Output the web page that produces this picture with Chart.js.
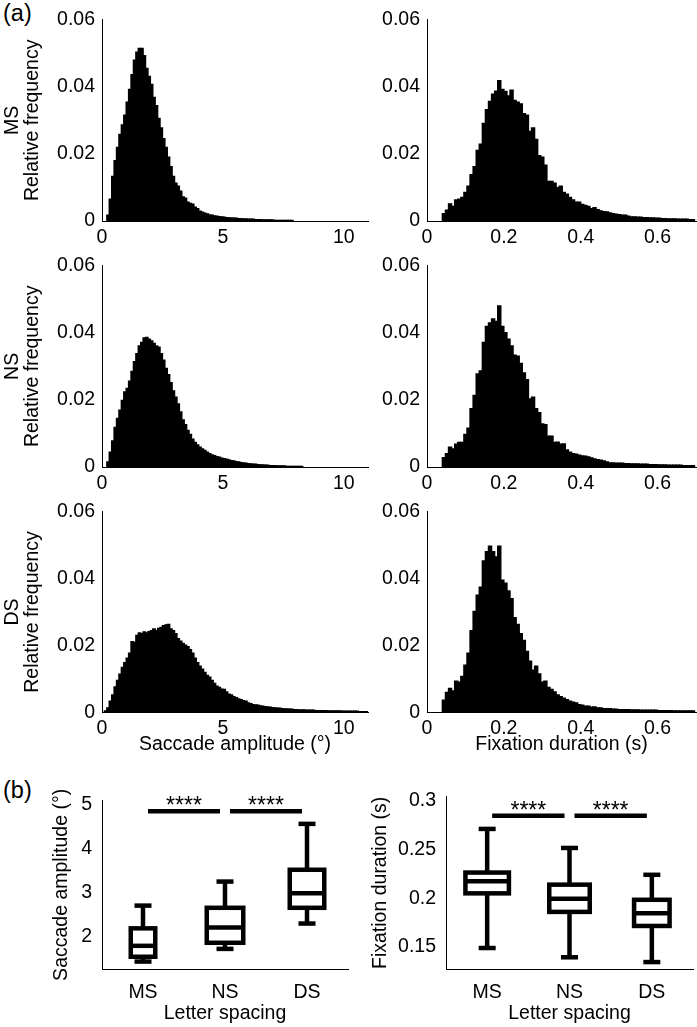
<!DOCTYPE html>
<html>
<head>
<meta charset="utf-8">
<script src="https://cdn.jsdelivr.net/npm/chart.js@4/dist/chart.umd.min.js"></script>
<style>
  body { margin: 0; background: #fff; width: 697px; height: 1027px; position: relative; overflow: hidden;
         font-family: "Liberation Sans", Arial, Helvetica, sans-serif; color: #000; }
  canvas { position: absolute; }
  .panel { position: absolute; font-size: 23.5px; line-height: 1; }
</style>
</head>
<body>
<div class="panel" style="left:3px;top:2px">(a)</div>
<div class="panel" style="left:3px;top:779px">(b)</div>
<canvas id="h1"></canvas><canvas id="h2"></canvas>
<canvas id="h3"></canvas><canvas id="h4"></canvas>
<canvas id="h5"></canvas><canvas id="h6"></canvas>
<canvas id="b1"></canvas><canvas id="b2"></canvas>
<script>
// ---- data: saccade amplitude histograms (bin width 0.1 deg) ----
const ampBinWidth = 0.1;
const msAmpStart = 0.2;
const msAmp = [.0017,.0065,.0133,.018,.0219,.0258,.0286,.0315,.0354,.0392,
  .0436,.0479,.0503,.0514,.0514,.0493,.0455,.0431,.0407,.0368,
  .0344,.0306,.0277,.0245,.0219,.019,.0162,.0133,.0113,.0104,
  .0089,.0072,.0068,.0056,.0052,.005,.0041,.0037,.0029,.0026,
  .0023,.0021,.0018,.0017,.0015,.0014,.0013,.0012,.0011,.001,
  .0009,.0009,.0008,.0008,.0007,.0007,.0006,.0006,.0005,.0005,
  .0005,.0004,.0004,.0004,.0003,.0003,.0003,.0003,.0003,.0002,
  .0002,.0002,.0002,.0002,.0002,.0002,.0002];
const nsAmpStart = 0.2;
const nsAmp = [.0015,.0044,.0078,.0118,.0145,.0169,.0198,.0224,.0234,.0256,
  .0285,.0314,.0338,.0361,.0371,.0385,.0386,.0381,.0376,.0368,
  .0361,.0357,.0338,.0318,.0294,.0275,.0251,.0227,.0208,.0188,
  .0164,.014,.0126,.0109,.0097,.0083,.0073,.0066,.0059,.0054,
  .0049,.0044,.004,.0036,.0034,.0031,.0029,.0026,.0025,.0023,
  .0021,.0019,.0018,.0016,.0015,.0013,.0012,.0011,.001,.0009,
  .0008,.0008,.0007,.0006,.0006,.0005,.0005,.0004,.0004,.0004,
  .0003,.0003,.0003,.0003,.0002,.0002,.0002,.0002,.0002,.0002,.0002];
const dsAmpStart = 0.1;
const dsAmp = [.0004,.0013,.0033,.0052,.0076,.0095,.0114,.0134,.0148,.0162,
  .0177,.0211,.0209,.023,.0237,.0235,.024,.0237,.0241,.0244,
  .0249,.0244,.0251,.0254,.0259,.0261,.0263,.0249,.0244,.0235,
  .022,.0213,.0206,.0201,.0196,.0187,.0177,.0162,.0148,.0138,
  .0129,.0119,.011,.0105,.0095,.0086,.0078,.0074,.0069,.0068,
  .0061,.0054,.0052,.0047,.0044,.004,.0038,.0035,.0033,.0028,
  .0026,.0023,.0022,.0021,.0019,.0018,.0017,.0016,.0015,.0014,
  .0013,.0012,.0012,.0011,.001,.001,.0009,.0009,.0008,.0008,
  .0007,.0007,.0007,.0006,.0006,.0006,.0006,.0005,.0005,.0005,
  .0005,.0005,.0004,.0004,.0004,.0004,.0004,.0004,.0003,.0003,
  .0003,.0003,.0003,.0003,.0003,.0002,.0002,.0002,.0002];

// ---- data: fixation duration histograms (bin width 0.008 s) ----
const durBinWidth = 0.008;
const durStart = 0.04;
const msDur = [.0022,.0032,.0051,.0043,.0063,.0065,.007,.0085,.0104,.0138,
  .0162,.021,.0229,.0291,.0332,.0356,.0378,.0387,.0418,.0392,
  .0386,.0373,.039,.0359,.0354,.0349,.032,.0315,.0267,.0277,
  .0243,.0195,.019,.0166,.0118,.0118,.0113,.0099,.0104,.0085,
  .008,.007,.0063,.0056,.0056,.0049,.0046,.0043,.0037,.004,
  .0034,.003,.0028,.0027,.0024,.0022,.002,.0019,.0017,.0017,
  .0014,.0012,.0012,.0011,.0011,.001,.001,.0009,.0009,.0008,
  .0008,.0007,.0007,.0006,.0006,.0006,.0005,.0005,.0005,.0005,.0004,.0004];
const nsDur = [.0028,.004,.0059,.0054,.0068,.0073,.0073,.0097,.0116,.0174,
  .0213,.0277,.0286,.0371,.0419,.0429,.0441,.0434,.048,.0419,
  .04,.0381,.0361,.0333,.033,.0309,.028,.026,.0203,.0208,
  .0174,.0162,.0128,.0126,.0092,.0092,.0073,.0074,.0068,.0069,
  .0051,.0044,.004,.0038,.0035,.0033,.0032,.003,.0027,.0024,
  .0022,.002,.0018,.0015,.0012,.0012,.0011,.0011,.0011,.001,
  .001,.0009,.0009,.0009,.0008,.0008,.0008,.0007,.0007,.0007,
  .0006,.0006,.0006,.0005,.0005,.0005,.0005,.0005,.0004,.0004,.0004,.0004];
const dsDur = [.0036,.0059,.0071,.0064,.0093,.009,.0107,.0141,.0177,.0244,
  .0302,.035,.0374,.0453,.048,.0497,.048,.0465,.0497,.0395,
  .0386,.0363,.034,.0283,.0263,.0235,.0215,.0182,.0153,.0126,
  .0138,.0115,.009,.0093,.0074,.0068,.0061,.0052,.0047,.0042,
  .0038,.0033,.003,.0028,.0023,.0021,.0018,.0018,.0015,.0016,
  .0013,.0013,.0011,.0011,.0011,.0009,.0009,.0008,.0008,.0008,
  .0008,.0007,.0007,.0007,.0006,.0006,.0006,.0006,.0006,.0006,
  .0005,.0005,.0005,.0005,.0005,.0004,.0004,.0004,.0004,.0004,.0004,.0004];

// ---- data: box plots ----
const spacing = ['MS', 'NS', 'DS'];
const ampMin = [1.42, 1.71, 2.29];
const ampQ1 = [1.53, 1.85, 2.65];
const ampMed = [1.78, 2.2, 2.98];
const ampQ3 = [2.18, 2.65, 3.52];
const ampMax = [2.70, 3.25, 4.57];
const durMin = [0.149, 0.1395, 0.1346];
const durQ1 = [0.205, 0.186, 0.1716];
const durMed = [0.2175, 0.1994, 0.1847];
const durQ3 = [0.2263, 0.2139, 0.1984];
const durMax = [0.271, 0.2515, 0.224];
const sigPairs = [[0, 1], [1, 2]];
const sigLabel = '****';
const ampSigLevel = 4.86;
const durSigLevel = 0.2846;

// ---- tick labels ----
const freqTicks = [0, 0.02, 0.04, 0.06];
const freqLabels = ['0', '0.02', '0.04', '0.06'];
const ampTicks = [0, 5, 10];
const ampLabels = ['0', '5', '10'];
const durTicks = [0, 0.2, 0.4, 0.6];
const durLabels = ['0', '0.2', '0.4', '0.6'];
const ampBoxTicks = [2, 3, 4, 5];
const ampBoxLabels = ['2', '3', '4', '5'];
const durBoxTicks = [0.15, 0.2, 0.25, 0.3];
const durBoxLabels = ['0.15', '0.2', '0.25', '0.3'];

const FONT = '"Liberation Sans", Arial, Helvetica, sans-serif';
const FS = 19.5;
Chart.defaults.font.family = FONT;
Chart.defaults.font.size = FS;
Chart.defaults.color = '#000';

// size and place a canvas so that its plot area lands on the given rectangle
function place(id, plot, m) {
    const c = document.getElementById(id);
    c.width = plot.w + m.l + m.r;
    c.height = plot.h + m.t + m.b;
    c.style.left = (plot.x - m.l) + 'px';
    c.style.top = (plot.y - m.t) + 'px';
    return c;
}

function fixedTicks(values) {
    return s => { s.ticks = values.map(v => ({ value: v })); };
}

function histChart(id, plot, m, start, width, values, xMax, xTicks, xLabels, yTitle, yTitlePad, xTitle) {
    const canvas = place(id, plot, m);
    const points = values.map((v, i) => ({ x: start + (i + 0.5) * width, y: v }));
    new Chart(canvas, {
        type: 'bar',
        data: { datasets: [{ data: points, backgroundColor: '#000', borderWidth: 0, inflateAmount: 0.7, barPercentage: 1, categoryPercentage: 1 }] },
        options: {
            responsive: false,
            animation: false,
            layout: { padding: { top: m.t, right: m.r, left: 0, bottom: 0 } },
            plugins: { legend: { display: false }, tooltip: { enabled: false } },
            scales: {
                x: {
                    type: 'linear', min: 0, max: xMax, offset: false,
                    grid: { display: false, drawTicks: false },
                    border: { color: '#000', width: 1 },
                    afterBuildTicks: fixedTicks(xTicks),
                    afterFit: s => { s.height = m.b; },
                    ticks: { padding: 5, maxRotation: 0, autoSkip: false, callback: (v, i) => xLabels[i] },
                    title: { display: !!xTitle, text: xTitle || '', padding: 0 }
                },
                y: {
                    min: 0, max: 0.06,
                    grid: { display: false, drawTicks: false },
                    border: { color: '#000', width: 1 },
                    afterBuildTicks: fixedTicks(freqTicks),
                    afterFit: s => { s.width = m.l; },
                    ticks: { padding: 7, autoSkip: false, callback: (v, i) => freqLabels[i] },
                    title: { display: !!yTitle, text: yTitle || '', font: { lineHeight: 1 }, padding: { top: yTitlePad, bottom: 0 } }
                }
            }
        }
    });
}

// box plot drawn from the stats arrays through the chart's scales
const boxPlot = {
    id: 'boxPlot',
    afterDatasetsDraw(chart, args, o) {
        const { ctx, scales: { x, y } } = chart;
        const seg = (x1, y1, x2, y2) => { ctx.beginPath(); ctx.moveTo(x1, y1); ctx.lineTo(x2, y2); ctx.stroke(); };
        const lw = 4.5;
        ctx.save();
        ctx.strokeStyle = '#000';
        ctx.lineWidth = lw;
        ctx.lineCap = 'butt';
        o.med.forEach((med, i) => {
            const cx = x.getPixelForValue(i);
            const hw = o.widths[i] / 2;
            const yMin = y.getPixelForValue(o.min[i]);
            const yQ1 = y.getPixelForValue(o.q1[i]);
            const yMed = y.getPixelForValue(med);
            const yQ3 = y.getPixelForValue(o.q3[i]);
            const yMax = y.getPixelForValue(o.max[i]);
            seg(cx, yQ3, cx, yMax);
            seg(cx, yQ1, cx, yMin);
            seg(cx - o.cap / 2, yMax, cx + o.cap / 2, yMax);
            seg(cx - o.cap / 2, yMin, cx + o.cap / 2, yMin);
            ctx.strokeRect(cx - hw + lw / 2, yQ3, o.widths[i] - lw, yQ1 - yQ3);
            seg(cx - hw + lw / 2, yMed, cx + hw - lw / 2, yMed);
        });
        // significance bars
        ctx.fillStyle = '#000';
        ctx.font = '23px ' + FONT;
        ctx.textAlign = 'center';
        ctx.textBaseline = 'alphabetic';
        const ys = y.getPixelForValue(o.sigLevel);
        o.sig.forEach(([a, b]) => {
            const xa = x.getPixelForValue(a) + 5;
            const xb = x.getPixelForValue(b) - 5;
            seg(xa, ys, xb, ys);
            ctx.fillText(sigLabel, (xa + xb) / 2, ys + 2);
        });
        ctx.restore();
    }
};

function boxChart(id, plot, m, stats, yMin, yMax, yTicks, yLabels, yTitle, yTitlePad) {
    const canvas = place(id, plot, m);
    new Chart(canvas, {
        type: 'bar',
        data: {
            labels: spacing,
            datasets: [{ data: stats.q1.map((v, i) => [v, stats.q3[i]]), backgroundColor: 'rgba(0,0,0,0)', borderWidth: 0 }]
        },
        options: {
            responsive: false,
            animation: false,
            layout: { padding: { top: m.t, right: m.r, left: 0, bottom: 0 } },
            plugins: { legend: { display: false }, tooltip: { enabled: false }, boxPlot: stats },
            scales: {
                x: {
                    grid: { display: false, drawTicks: false },
                    border: { color: '#000', width: 1 },
                    afterFit: s => { s.height = m.b; },
                    ticks: { padding: 12 },
                    title: { display: true, text: 'Letter spacing', padding: 0 }
                },
                y: {
                    min: yMin, max: yMax,
                    grid: { display: false, drawTicks: false },
                    border: { color: '#000', width: 1 },
                    afterBuildTicks: fixedTicks(yTicks),
                    afterFit: s => { s.width = m.l; },
                    ticks: { padding: 10, autoSkip: false, callback: (v, i) => yLabels[i] },
                    title: { display: true, text: yTitle, padding: { top: yTitlePad, bottom: 0 } }
                }
            }
        },
        plugins: [boxPlot]
    });
}

const histTops = [13, 259, 505];
const leftM = { l: 102, t: 12, r: 4, b: 30 };
const rightM = { l: 80, t: 12, r: 1, b: 30 };
const lastLeftM = { l: 102, t: 12, r: 4, b: 43.7 };
const lastRightM = { l: 80, t: 12, r: 1, b: 43.7 };

histChart('h1', { x: 102, y: histTops[0], w: 266, h: 208 }, leftM, msAmpStart, ampBinWidth, msAmp, 11, ampTicks, ampLabels, ['MS', 'Relative frequency'], 3.25);
histChart('h2', { x: 427, y: histTops[0], w: 269, h: 208 }, rightM, durStart, durBinWidth, msDur, 0.7, durTicks, durLabels);
histChart('h3', { x: 102, y: histTops[1], w: 266, h: 208 }, leftM, nsAmpStart, ampBinWidth, nsAmp, 11, ampTicks, ampLabels, ['NS', 'Relative frequency'], 3.25);
histChart('h4', { x: 427, y: histTops[1], w: 269, h: 208 }, rightM, durStart, durBinWidth, nsDur, 0.7, durTicks, durLabels);
histChart('h5', { x: 102, y: histTops[2], w: 266, h: 208 }, lastLeftM, dsAmpStart, ampBinWidth, dsAmp, 11, ampTicks, ampLabels, ['DS', 'Relative frequency'], 3.25, 'Saccade amplitude (°)');
histChart('h6', { x: 427, y: histTops[2], w: 269, h: 208 }, lastRightM, durStart, durBinWidth, dsDur, 0.7, durTicks, durLabels, null, 0, 'Fixation duration (s)');

boxChart('b1', { x: 102, y: 793, w: 246, h: 176 }, { l: 102, t: 14, r: 4, b: 56 },
    { min: ampMin, q1: ampQ1, med: ampMed, q3: ampQ3, max: ampMax, widths: [29, 41, 39], cap: 17, sig: sigPairs, sigLevel: ampSigLevel },
    1.25, 5.1, ampBoxTicks, ampBoxLabels, 'Saccade amplitude (°)', 50.3);
boxChart('b2', { x: 446, y: 789, w: 247, h: 180 }, { l: 106, t: 14, r: 4, b: 56 },
    { min: durMin, q1: durQ1, med: durMed, q3: durQ3, max: durMax, widths: [48, 45, 40], cap: 17, sig: sigPairs, sigLevel: durSigLevel },
    0.1275, 0.304, durBoxTicks, durBoxLabels, 'Fixation duration (s)', 29.3);
</script>
</body>
</html>
